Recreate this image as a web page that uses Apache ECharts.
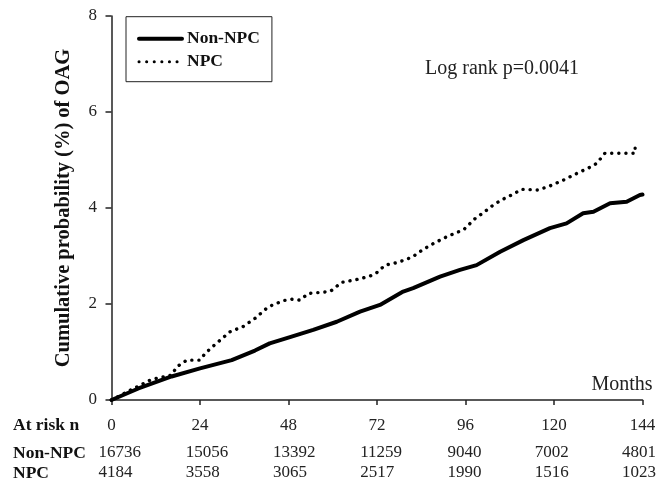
<!DOCTYPE html>
<html>
<head>
<meta charset="utf-8">
<script src="https://cdn.jsdelivr.net/npm/echarts@6/dist/echarts.min.js"></script>
<style>
  html, body { margin: 0; padding: 0; background: #fff; }
  #chart { width: 659px; height: 482px; }
</style>
</head>
<body>
<div id="chart"></div>
<script>
// cumulative probability (%) of OAG
const nonNpcMonths = [0, 7.3, 16.3, 24, 32.6, 38.9, 42.9, 48.4, 54.7, 61.1, 67.4, 72.8, 79.1, 81.8, 89.1, 94.5, 99, 105.4, 111.7, 118.9, 123.4, 127.9, 130.7, 135.2, 139.7, 143.3, 144];
const nonNpcPct = [0, 0.24, 0.49, 0.66, 0.83, 1.03, 1.18, 1.31, 1.46, 1.63, 1.84, 1.98, 2.26, 2.33, 2.57, 2.71, 2.81, 3.09, 3.33, 3.58, 3.68, 3.89, 3.92, 4.1, 4.13, 4.27, 4.28];

const npcMonths = [0, 5, 10.9, 14, 16.3, 17.7, 20.4, 24, 25.4, 28, 32.1, 35.7, 38.9, 42.5, 46.6, 48.9, 51.1, 53.4, 59.3, 62.4, 66.5, 70.1, 71.9, 74.2, 77.3, 80, 81.8, 84.6, 87.3, 90.9, 93.6, 95.4, 98.6, 100.8, 103.5, 105.8, 109, 111.2, 115.7, 118.9, 122.5, 126.2, 129.8, 131.6, 133.8, 140.6, 142, 142];
const npcPct = [0, 0.2, 0.43, 0.48, 0.52, 0.69, 0.83, 0.83, 0.97, 1.15, 1.42, 1.53, 1.7, 1.94, 2.07, 2.1, 2.08, 2.22, 2.26, 2.45, 2.51, 2.58, 2.65, 2.81, 2.86, 2.93, 2.99, 3.14, 3.26, 3.4, 3.49, 3.54, 3.78, 3.9, 4.06, 4.17, 4.29, 4.39, 4.375, 4.46, 4.58, 4.72, 4.85, 4.93, 5.14, 5.14, 5.14, 5.25];

const monthTicks = [0, 24, 48, 72, 96, 120, 144];
const atRiskNonNpc = [16736, 15056, 13392, 11259, 9040, 7002, 4801];
const atRiskNpc = [4184, 3558, 3065, 2517, 1990, 1516, 1023];

const serif = "'Liberation Serif', 'Times New Roman', serif";

function pairs(xs, ys) {
  return xs.map((x, i) => [x, ys[i]]);
}

// rows under the x axis: one hidden axis per row, shifted via grid 1
function riskAxis(offset, name, counts) {
  return {
    type: "value",
    gridIndex: 1,
    min: 0,
    max: 144,
    interval: 24,
    position: "bottom",
    offset: offset,
    name: name,
    nameLocation: "start",
    nameGap: 85.5,
    nameTextStyle: {
      fontFamily: serif,
      fontSize: 17.5,
      fontWeight: "bold",
      color: "#111",
      align: "left",
      verticalAlign: "middle"
    },
    axisLine: { show: false, onZero: false },
    axisTick: { show: false },
    splitLine: { show: false },
    axisLabel: {
      show: true,
      margin: 0,
      align: "left",
      verticalAlign: "middle",
      fontFamily: serif,
      fontSize: 17,
      color: "#222",
      formatter: v => (counts ? String(counts[monthTicks.indexOf(v)]) : "")
    }
  };
}

const chart = echarts.init(document.getElementById("chart"));

const option = {
  animation: false,
  backgroundColor: "#fff",
  title: {
    text: "Log rank p=0.0041",
    left: 425,
    top: 59,
    padding: 0,
    textStyle: {
      fontFamily: serif,
      fontSize: 20,
      fontWeight: "normal",
      color: "#222"
    }
  },
  legend: {
    left: 126,
    top: 16.7,
    orient: "vertical",
    borderColor: "#222",
    borderWidth: 1,
    padding: [12, 12, 10, 11],
    itemWidth: 43,
    itemHeight: 20,
    itemGap: 3,
    itemStyle: { opacity: 0 },
    textStyle: {
      fontFamily: serif,
      fontSize: 17.5,
      fontWeight: "bold",
      color: "#111",
      lineHeight: 20
    },
    data: [
      { name: "Non-NPC", lineStyle: { width: 4, type: "solid", cap: "round" } },
      { name: "NPC", lineStyle: { width: 3, type: [0.1, 7.5], cap: "round" } }
    ]
  },
  grid: [
    { left: 111.5, right: 16.5, top: 16, bottom: 82 },
    { left: 98.5, right: 29.5, top: 16, bottom: 82 }
  ],
  xAxis: [
    {
      type: "value",
      gridIndex: 0,
      min: 0,
      max: 144,
      interval: 24,
      name: "Months",
      nameLocation: "end",
      nameGap: 10,
      nameTextStyle: {
        fontFamily: serif,
        fontSize: 20,
        color: "#222",
        align: "right",
        verticalAlign: "bottom",
        padding: [0, 0, 5, 0]
      },
      axisLine: { onZero: false, lineStyle: { color: "#222", width: 1.5 } },
      axisTick: { show: true, length: 5, lineStyle: { color: "#222", width: 1.5 } },
      splitLine: { show: false },
      axisLabel: {
        margin: 26,
        verticalAlign: "middle",
        fontFamily: serif,
        fontSize: 17,
        color: "#222"
      }
    },
    riskAxis(25.5, "At risk n", null),
    riskAxis(53, "Non-NPC", atRiskNonNpc),
    riskAxis(73, "NPC", atRiskNpc)
  ],
  yAxis: [
    {
      type: "value",
      gridIndex: 0,
      min: 0,
      max: 8,
      interval: 2,
      name: "Cumulative probability (%) of OAG",
      nameLocation: "middle",
      nameGap: 37,
      nameTextStyle: {
        fontFamily: serif,
        fontSize: 20.5,
        fontWeight: "bold",
        color: "#111"
      },
      axisLine: { show: true, lineStyle: { color: "#222", width: 1.5 } },
      axisTick: { show: true, length: 6, lineStyle: { color: "#222", width: 1.5 } },
      splitLine: { show: false },
      axisLabel: {
        margin: 14.5,
        fontFamily: serif,
        fontSize: 17,
        color: "#222"
      }
    },
    { type: "value", gridIndex: 1, min: 0, max: 8, show: false }
  ],
  series: [
    {
      name: "Non-NPC",
      type: "line",
      xAxisIndex: 0,
      yAxisIndex: 0,
      symbol: "none",
      lineStyle: { color: "#000", width: 4, join: "round", cap: "round" },
      itemStyle: { color: "#000" },
      data: pairs(nonNpcMonths, nonNpcPct),
      z: 3
    },
    {
      name: "NPC",
      type: "line",
      xAxisIndex: 0,
      yAxisIndex: 0,
      symbol: "none",
      lineStyle: { color: "#000", width: 3.4, type: [0.1, 7], cap: "round" },
      itemStyle: { color: "#000" },
      data: pairs(npcMonths, npcPct),
      z: 2
    }
  ]
};

chart.setOption(option);
</script>
</body>
</html>
